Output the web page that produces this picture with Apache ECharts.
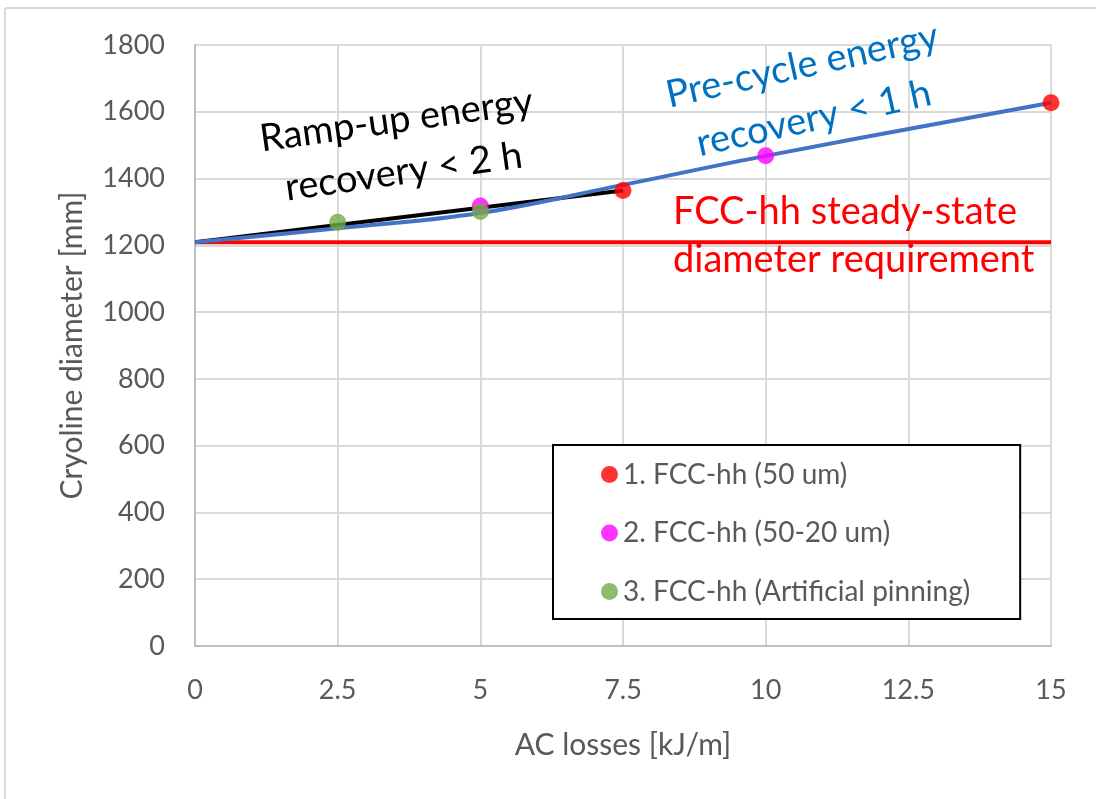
<!DOCTYPE html>
<html><head><meta charset="utf-8">
<script src="https://cdn.jsdelivr.net/npm/echarts@6/dist/echarts.min.js"></script>
<style>html,body{margin:0;padding:0;background:#fff}#c{width:1096px;height:799px}</style>
</head><body><div id="c"></div>
<script>
const xTicks = [0, 2.5, 5, 7.5, 10, 12.5, 15];
const yTicks = [0, 200, 400, 600, 800, 1000, 1200, 1400, 1600, 1800];
const requirementX = [0, 15];
const requirementY = [1209, 1209];
const rampX = [0, 7.5];
const rampY = [1209, 1364];
const precycleX = [0, 2.5, 5, 7.5, 10, 15];
const precycleY = [1209, 1251, 1297, 1381, 1468, 1627];
const s1Name = '1. FCC-hh (50 um)';
const s1X = [7.5, 15];
const s1Y = [1364, 1627];
const s2Name = '2. FCC-hh (50-20 um)';
const s2X = [5, 10];
const s2Y = [1318, 1468];
const s3Name = '3. FCC-hh (Artificial pinning)';
const s3X = [2.5, 5];
const s3Y = [1269, 1301];

const zip = (a, b) => a.map((v, i) => [v, b[i]]);
const FONT = 'Lato';
const chart = echarts.init(document.getElementById('c'), null, {renderer: 'canvas'});
chart.setOption({
  backgroundColor: '#fff',
  animation: false,
  textStyle: {fontFamily: FONT},
  grid: {left: 195, right: 45, top: 45, bottom: 153},
  xAxis: {
    type: 'value', min: 0, max: 15, interval: 2.5,
    name: 'AC losses [kJ/m]', nameLocation: 'middle', nameGap: 84,
    nameTextStyle: {fontSize: 30, color: '#595959', fontFamily: FONT},
    axisLine: {show: true, lineStyle: {color: '#bfbfbf', width: 2}},
    axisTick: {show: false},
    axisLabel: {fontSize: 27, color: '#595959', margin: 31, fontFamily: FONT,
      formatter: v => String(v)},
    splitLine: {show: true, lineStyle: {color: '#d9d9d9', width: 2}}
  },
  yAxis: {
    type: 'value', min: 0, max: 1800, interval: 200,
    name: 'Cryoline diameter [mm]', nameLocation: 'middle', nameGap: 108,
    nameTextStyle: {fontSize: 30, color: '#595959', fontFamily: FONT},
    axisLine: {show: true, lineStyle: {color: '#bfbfbf', width: 2}},
    axisTick: {show: false},
    axisLabel: {fontSize: 27, color: '#595959', margin: 30, fontFamily: FONT,
      formatter: v => String(v)},
    splitLine: {show: true, lineStyle: {color: '#d9d9d9', width: 2}}
  },
  legend: {
    data: [s1Name, s2Name, s3Name],
    orient: 'vertical', left: 553, top: 445,
    padding: [15, 50, 13, 48],
    backgroundColor: '#fff', borderColor: '#000', borderWidth: 2,
    itemWidth: 17, itemHeight: 17, itemGap: 29.5, icon: 'circle',
    textStyle: {fontSize: 28, color: '#595959', lineHeight: 29, fontFamily: FONT}
  },
  graphic: [
    {type: 'line', shape: {x1: 5, y1: 8, x2: 5, y2: 799}, style: {stroke: '#d9d9d9', lineWidth: 2}},
    {type: 'line', shape: {x1: 5, y1: 8, x2: 1096, y2: 8}, style: {stroke: '#d9d9d9', lineWidth: 2}},
    {type: 'text', x: 400, y: 146, rotation: 8 * Math.PI / 180, z: 10,
      style: {text: 'Ramp-up energy\nrecovery < 2 h', fill: '#000', fontSize: 38, fontFamily: FONT,
        align: 'center', verticalAlign: 'middle', lineHeight: 52}},
    {type: 'text', x: 808, y: 92, rotation: 12.5 * Math.PI / 180, z: 10,
      style: {text: 'Pre-cycle energy\nrecovery < 1 h', fill: '#0070C0', fontSize: 38, fontFamily: FONT,
        align: 'center', verticalAlign: 'middle', lineHeight: 54}},
    {type: 'text', x: 673, y: 236, z: 10,
      style: {text: 'FCC-hh steady-state\ndiameter requirement', fill: '#FF0000', fontSize: 38, fontFamily: FONT,
        align: 'left', verticalAlign: 'middle', lineHeight: 48}}
  ],
  series: [
    {type: 'line', name: 'req', data: zip(requirementX, requirementY), symbol: 'none',
      lineStyle: {color: '#FF0000', width: 4}, z: 2},
    {type: 'line', name: 'ramp', data: zip(rampX, rampY), symbol: 'none',
      lineStyle: {color: '#000', width: 4}, z: 3},
    {type: 'line', name: 'pre', data: zip(precycleX, precycleY), symbol: 'none', smooth: 0.4,
      lineStyle: {color: '#4472C4', width: 4}, z: 4},
    {type: 'scatter', name: s1Name, data: zip(s1X, s1Y), symbolSize: 17,
      itemStyle: {color: '#FF0000'}, z: 5},
    {type: 'scatter', name: s2Name, data: zip(s2X, s2Y), symbolSize: 17,
      itemStyle: {color: '#FF00FF'}, z: 5},
    {type: 'scatter', name: s3Name, data: zip(s3X, s3Y), symbolSize: 17,
      itemStyle: {color: '#70AD47'}, z: 6}
  ]
});
</script></body></html>
